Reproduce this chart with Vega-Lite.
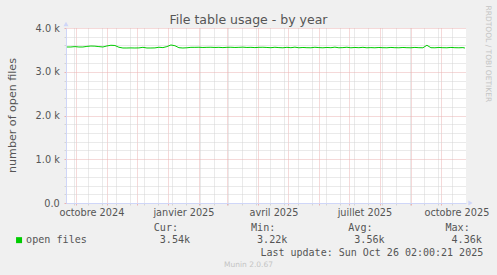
{
  "$schema": "https://vega.github.io/schema/vega-lite/v6.json",
  "width": 400,
  "height": 175,
  "autosize": {"type": "none"},
  "padding": {"left": 66, "top": 28, "right": 31, "bottom": 72},
  "background": "#f0f0f0",
  "config": {"view": {"stroke": null, "fill": "#ffffff"}},
  "title": {
    "text": "File table usage - by year",
    "font": "DejaVu Sans",
    "fontSize": 12.5,
    "fontWeight": "normal",
    "color": "#555555",
    "anchor": "middle",
    "frame": "group",
    "dx": -17.5,
    "baseline": "alphabetic",
    "offset": -31
  },
  "resolve": {"axis": {"x": "independent", "y": "independent"}},
  "layer": [
    {
      "data": {
        "values": [
          {"t": "2024-09-22", "v": 3566}, {"t": "2024-09-26", "v": 3566}, {"t": "2024-09-30", "v": 3575},
          {"t": "2024-10-04", "v": 3566}, {"t": "2024-10-08", "v": 3566}, {"t": "2024-10-12", "v": 3580},
          {"t": "2024-10-16", "v": 3588}, {"t": "2024-10-20", "v": 3585}, {"t": "2024-10-24", "v": 3575},
          {"t": "2024-10-28", "v": 3566}, {"t": "2024-11-01", "v": 3590}, {"t": "2024-11-05", "v": 3605},
          {"t": "2024-11-09", "v": 3600}, {"t": "2024-11-13", "v": 3560}, {"t": "2024-11-17", "v": 3543},
          {"t": "2024-11-21", "v": 3543}, {"t": "2024-11-25", "v": 3545}, {"t": "2024-11-29", "v": 3543},
          {"t": "2024-12-03", "v": 3545}, {"t": "2024-12-07", "v": 3558}, {"t": "2024-12-11", "v": 3543},
          {"t": "2024-12-15", "v": 3543}, {"t": "2024-12-19", "v": 3545}, {"t": "2024-12-23", "v": 3560},
          {"t": "2024-12-27", "v": 3552}, {"t": "2024-12-31", "v": 3575}, {"t": "2025-01-04", "v": 3612},
          {"t": "2025-01-08", "v": 3595}, {"t": "2025-01-12", "v": 3550}, {"t": "2025-01-16", "v": 3543},
          {"t": "2025-01-20", "v": 3548}, {"t": "2025-01-24", "v": 3558}, {"t": "2025-01-28", "v": 3558},
          {"t": "2025-02-01", "v": 3560}, {"t": "2025-02-05", "v": 3555}, {"t": "2025-02-09", "v": 3558},
          {"t": "2025-02-13", "v": 3560}, {"t": "2025-02-17", "v": 3555}, {"t": "2025-02-21", "v": 3558},
          {"t": "2025-02-25", "v": 3552}, {"t": "2025-03-01", "v": 3558}, {"t": "2025-03-05", "v": 3560},
          {"t": "2025-03-09", "v": 3555}, {"t": "2025-03-13", "v": 3558}, {"t": "2025-03-17", "v": 3562},
          {"t": "2025-03-21", "v": 3555}, {"t": "2025-03-25", "v": 3558}, {"t": "2025-03-29", "v": 3552},
          {"t": "2025-04-02", "v": 3558}, {"t": "2025-04-06", "v": 3560}, {"t": "2025-04-10", "v": 3555},
          {"t": "2025-04-14", "v": 3550}, {"t": "2025-04-18", "v": 3560}, {"t": "2025-04-22", "v": 3552},
          {"t": "2025-04-26", "v": 3548}, {"t": "2025-04-30", "v": 3558}, {"t": "2025-05-04", "v": 3550},
          {"t": "2025-05-08", "v": 3562}, {"t": "2025-05-12", "v": 3548}, {"t": "2025-05-16", "v": 3555},
          {"t": "2025-05-20", "v": 3550}, {"t": "2025-05-24", "v": 3548}, {"t": "2025-05-28", "v": 3560},
          {"t": "2025-06-01", "v": 3552}, {"t": "2025-06-05", "v": 3548}, {"t": "2025-06-09", "v": 3555},
          {"t": "2025-06-13", "v": 3550}, {"t": "2025-06-17", "v": 3562}, {"t": "2025-06-21", "v": 3548},
          {"t": "2025-06-25", "v": 3552}, {"t": "2025-06-29", "v": 3560}, {"t": "2025-07-03", "v": 3548},
          {"t": "2025-07-07", "v": 3555}, {"t": "2025-07-11", "v": 3550}, {"t": "2025-07-15", "v": 3558},
          {"t": "2025-07-19", "v": 3548}, {"t": "2025-07-23", "v": 3552}, {"t": "2025-07-27", "v": 3548},
          {"t": "2025-07-31", "v": 3555}, {"t": "2025-08-04", "v": 3550}, {"t": "2025-08-08", "v": 3548},
          {"t": "2025-08-12", "v": 3556}, {"t": "2025-08-16", "v": 3550}, {"t": "2025-08-20", "v": 3548},
          {"t": "2025-08-24", "v": 3555}, {"t": "2025-08-28", "v": 3550}, {"t": "2025-09-01", "v": 3548},
          {"t": "2025-09-05", "v": 3556}, {"t": "2025-09-09", "v": 3550}, {"t": "2025-09-13", "v": 3548},
          {"t": "2025-09-17", "v": 3605}, {"t": "2025-09-21", "v": 3550}, {"t": "2025-09-25", "v": 3548},
          {"t": "2025-09-29", "v": 3555}, {"t": "2025-10-03", "v": 3550}, {"t": "2025-10-07", "v": 3548},
          {"t": "2025-10-11", "v": 3556}, {"t": "2025-10-15", "v": 3550}, {"t": "2025-10-19", "v": 3548},
          {"t": "2025-10-23", "v": 3552}, {"t": "2025-10-25", "v": 3542}
        ]
      },
      "mark": {"type": "line", "strokeWidth": 1},
      "encoding": {
        "x": {
          "field": "t",
          "type": "temporal",
          "scale": {
            "type": "utc",
            "domain": [
              {"year": 2024, "month": 9, "date": 21, "hours": 2, "utc": true},
              {"year": 2025, "month": 10, "date": 26, "hours": 2, "utc": true}
            ]
          },
          "axis": {
            "orient": "bottom",
            "values": [
              {"year": 2024, "month": 10, "date": 1, "utc": true},
              {"year": 2024, "month": 11, "date": 1, "utc": true},
              {"year": 2024, "month": 12, "date": 1, "utc": true},
              {"year": 2025, "month": 1, "date": 1, "utc": true},
              {"year": 2025, "month": 2, "date": 1, "utc": true},
              {"year": 2025, "month": 3, "date": 1, "utc": true},
              {"year": 2025, "month": 4, "date": 1, "utc": true},
              {"year": 2025, "month": 5, "date": 1, "utc": true},
              {"year": 2025, "month": 6, "date": 1, "utc": true},
              {"year": 2025, "month": 7, "date": 1, "utc": true},
              {"year": 2025, "month": 8, "date": 1, "utc": true},
              {"year": 2025, "month": 9, "date": 1, "utc": true},
              {"year": 2025, "month": 10, "date": 1, "utc": true},
              {"year": 2024, "month": 9, "date": 29, "utc": true},
              {"year": 2024, "month": 10, "date": 13, "utc": true},
              {"year": 2024, "month": 10, "date": 27, "utc": true},
              {"year": 2024, "month": 11, "date": 10, "utc": true},
              {"year": 2024, "month": 11, "date": 24, "utc": true},
              {"year": 2024, "month": 12, "date": 8, "utc": true},
              {"year": 2024, "month": 12, "date": 22, "utc": true},
              {"year": 2025, "month": 1, "date": 5, "utc": true},
              {"year": 2025, "month": 1, "date": 19, "utc": true},
              {"year": 2025, "month": 2, "date": 2, "utc": true},
              {"year": 2025, "month": 2, "date": 16, "utc": true},
              {"year": 2025, "month": 3, "date": 2, "utc": true},
              {"year": 2025, "month": 3, "date": 16, "utc": true},
              {"year": 2025, "month": 3, "date": 30, "utc": true},
              {"year": 2025, "month": 4, "date": 13, "utc": true},
              {"year": 2025, "month": 4, "date": 27, "utc": true},
              {"year": 2025, "month": 5, "date": 11, "utc": true},
              {"year": 2025, "month": 5, "date": 25, "utc": true},
              {"year": 2025, "month": 6, "date": 8, "utc": true},
              {"year": 2025, "month": 6, "date": 22, "utc": true},
              {"year": 2025, "month": 7, "date": 6, "utc": true},
              {"year": 2025, "month": 7, "date": 20, "utc": true},
              {"year": 2025, "month": 8, "date": 3, "utc": true},
              {"year": 2025, "month": 8, "date": 17, "utc": true},
              {"year": 2025, "month": 8, "date": 31, "utc": true},
              {"year": 2025, "month": 9, "date": 14, "utc": true},
              {"year": 2025, "month": 9, "date": 28, "utc": true},
              {"year": 2025, "month": 10, "date": 12, "utc": true}
            ],
            "grid": true,
            "gridDash": [1, 1],
            "gridColor": {"condition": {"test": "utcdate(datum.value) === 1", "value": "#ebb2b2"}, "value": "#d4d4d4"},
            "tickColor": {"condition": {"test": "utcdate(datum.value) === 1", "value": "#ebb2b2"}, "value": "#d4d4d4"},
            "tickSize": 2,
            "domainColor": "#cfd6f8",
            "labelExpr": "utcdate(datum.value) === 1 && utcmonth(datum.value) % 3 === 0 ? ['janvier','février','mars','avril','mai','juin','juillet','août','septembre','octobre','novembre','décembre'][utcmonth(datum.value)] + ' ' + utcyear(datum.value) : ''",
            "labelFont": "DejaVu Sans",
            "labelFontSize": 9.72,
            "labelColor": "#555555",
            "labelOffset": 15.5,
            "labelBaseline": "alphabetic",
            "labelPadding": 10.7,
            "labelFlush": false,
            "labelOverlap": false,
            "labelBound": false,
            "title": "Last update: Sun Oct 26 02:00:21 2025",
            "titleFont": "DejaVu Sans Mono",
            "titleFontSize": 10,
            "titleFontWeight": "normal",
            "titleColor": "#555555",
            "titleAlign": "right",
            "titleBaseline": "alphabetic",
            "titleX": 416.7,
            "titleY": 52.3
          }
        },
        "y": {
          "field": "v",
          "type": "quantitative",
          "scale": {"domain": [0, 4000], "nice": false},
          "axis": {
            "orient": "left",
            "values": [0, 200, 400, 600, 800, 1000, 1200, 1400, 1600, 1800, 2000, 2200, 2400, 2600, 2800, 3000, 3200, 3400, 3600, 3800, 4000],
            "grid": true,
            "gridDash": [1, 1],
            "gridColor": {"condition": {"test": "datum.value % 1000 === 0", "value": "#ebb2b2"}, "value": "#d4d4d4"},
            "tickColor": {"condition": {"test": "datum.value % 1000 === 0", "value": "#ebb2b2"}, "value": "#d4d4d4"},
            "tickSize": 2,
            "domainColor": "#cfd6f8",
            "labelExpr": "datum.value === 0 ? '0.0\u00a0\u00a0' : (datum.value % 1000 === 0 ? format(datum.value / 1000, '.1f') + ' k' : '')",
            "labelFont": "DejaVu Sans",
            "labelFontSize": 9.72,
            "labelColor": "#555555",
            "labelPadding": 4.7,
            "labelFlush": false,
            "labelOverlap": false,
            "labelBound": false,
            "title": "number of open files",
            "titleFont": "DejaVu Sans",
            "titleFontSize": 11.1,
            "titleFontWeight": "normal",
            "titleColor": "#555555",
            "titleAngle": 270,
            "titleAlign": "center",
            "titleBaseline": "alphabetic",
            "titleX": -51,
            "titleY": 87
          }
        },
        "color": {
          "datum": "open files",
          "scale": {"range": ["#00cc00"]},
          "legend": {
            "orient": "none",
            "legendX": -52,
            "legendY": 195,
            "direction": "vertical",
            "padding": 0,
            "title": "\u200b\u00a0\u00a0\u00a0\u00a0\u00a0\u00a0\u00a0\u00a0\u00a0\u00a0\u00a0\u00a0\u00a0\u00a0\u00a0\u00a0\u00a0\u00a0\u00a0\u00a0\u00a0\u00a0\u00a0Cur:\u00a0\u00a0\u00a0\u00a0\u00a0\u00a0\u00a0\u00a0\u00a0\u00a0\u00a0\u00a0Min:\u00a0\u00a0\u00a0\u00a0\u00a0\u00a0\u00a0\u00a0\u00a0\u00a0\u00a0\u00a0Avg:\u00a0\u00a0\u00a0\u00a0\u00a0\u00a0\u00a0\u00a0\u00a0\u00a0\u00a0\u00a0Max:",
            "titleFont": "DejaVu Sans Mono",
            "titleFontSize": 10.1,
            "titleFontWeight": "normal",
            "titleColor": "#555555",
            "titlePadding": 2,
            "titleLimit": 1000,
            "labelFont": "DejaVu Sans Mono",
            "labelFontSize": 10.1,
            "labelColor": "#555555",
            "labelLimit": 1000,
            "labelOffset": 2,
            "labelExpr": "datum.label + '\u00a0\u00a0\u00a0\u00a0\u00a0\u00a0\u00a0\u00a0\u00a0\u00a0\u00a0\u00a03.54k\u00a0\u00a0\u00a0\u00a0\u00a0\u00a0\u00a0\u00a0\u00a0\u00a0\u00a03.22k\u00a0\u00a0\u00a0\u00a0\u00a0\u00a0\u00a0\u00a0\u00a0\u00a0\u00a03.56k\u00a0\u00a0\u00a0\u00a0\u00a0\u00a0\u00a0\u00a0\u00a0\u00a0\u00a04.36k'",
            "symbolType": "square",
            "symbolSize": 36,
            "symbolStrokeWidth": 0,
            "symbolFillColor": "#00cc00",
            "symbolOpacity": 1
          }
        }
      }
    },
    {
      "data": {"values": [{}]},
      "mark": {"type": "point", "shape": "triangle-up", "filled": true, "color": "#cfd6f8", "size": 25, "opacity": 1},
      "encoding": {
        "x": {
          "datum": {"year": 2024, "month": 9, "date": 21, "hours": 2, "utc": true},
          "type": "temporal",
          "axis": {
            "orient": "top",
            "domain": false,
            "ticks": false,
            "labels": false,
            "grid": false,
            "title": "Munin 2.0.67",
            "titleFont": "DejaVu Sans",
            "titleFontSize": 7.5,
            "titleFontWeight": "normal",
            "titleColor": "#c4c4c4",
            "titleAlign": "center",
            "titleBaseline": "alphabetic",
            "titleAngle": 0,
            "titleX": 182,
            "titleY": 238.7
          }
        },
        "y": {
          "datum": 4091,
          "type": "quantitative",
          "axis": {
            "orient": "right",
            "domain": false,
            "ticks": false,
            "labels": false,
            "grid": false,
            "title": "RRDTOOL / TOBI OETIKER",
            "titleFont": "DejaVu Sans",
            "titleFontSize": 7.5,
            "titleFontWeight": "normal",
            "titleColor": "#c4c4c4",
            "titleAngle": 90,
            "titleAlign": "left",
            "titleBaseline": "alphabetic",
            "titleX": 19.3,
            "titleY": -23
          }
        }
      }
    },
    {
      "data": {"values": [{}]},
      "mark": {"type": "point", "shape": "triangle-right", "filled": true, "color": "#cfd6f8", "size": 25, "opacity": 1},
      "encoding": {
        "x": {"datum": {"year": 2025, "month": 10, "date": 30, "hours": 14, "utc": true}, "type": "temporal", "axis": null},
        "y": {"datum": 0, "type": "quantitative", "axis": null}
      }
    }
  ]
}
